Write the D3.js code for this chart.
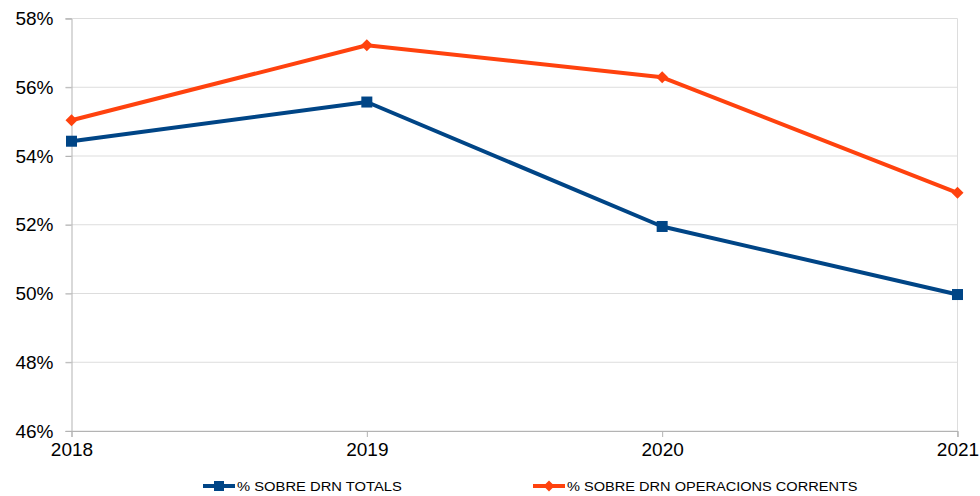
<!DOCTYPE html>
<html>
<head>
<meta charset="utf-8">
<script src="https://cdn.jsdelivr.net/npm/d3@7"></script>
<style>
  body { margin: 0; background: #fff; }
  svg { font-family: "Liberation Sans", Arial, sans-serif; }
</style>
</head>
<body>
<div id="chart"></div>
<script>
var years = ['2018', '2019', '2020', '2021'];
var drnTotals = [54.43, 55.57, 51.95, 49.97];
var drnCorrents = [55.04, 57.22, 56.29, 52.93];
var yTicks = [46, 48, 50, 52, 54, 56, 58];
var seriesNames = ['% SOBRE DRN TOTALS', '% SOBRE DRN OPERACIONS CORRENTS'];

var W = 980, H = 496;
var margin = {top: 18.5, right: 22.5, bottom: 65, left: 71.5};
var width = W - margin.left - margin.right,
    height = H - margin.top - margin.bottom;

var svg = d3.select('#chart').append('svg')
    .attr('width', W)
    .attr('height', H);
var g = svg.append('g')
    .attr('transform', 'translate(' + margin.left + ',' + margin.top + ')');

var x = d3.scalePoint().domain(years).range([0, width]);
var y = d3.scaleLinear().domain([46, 58]).range([height, 0]);

// gridlines
g.append('g')
    .selectAll('line')
    .data(yTicks)
    .enter().append('line')
    .attr('x1', -6).attr('x2', width)
    .attr('y1', function(d) { return y(d); })
    .attr('y2', function(d) { return y(d); })
    .attr('stroke', '#dddddd')
    .attr('stroke-width', 1);

g.append('line')
    .attr('x1', width).attr('x2', width)
    .attr('y1', 0).attr('y2', height + 6)
    .attr('stroke', '#dddddd');

// y axis
var yAxis = g.append('g')
    .call(d3.axisLeft(y).tickValues(yTicks).tickSize(6).tickPadding(12)
        .tickFormat(function(d) { return d + '%'; }));
yAxis.select('.domain').attr('stroke', '#b3b3b3');
yAxis.selectAll('.tick line').attr('stroke', '#b3b3b3');
yAxis.selectAll('text').attr('font-size', 19).attr('fill', '#000')
    .attr('font-family', '"Liberation Sans", Arial, sans-serif');

// x axis
var xAxis = g.append('g')
    .attr('transform', 'translate(0,' + height + ')')
    .call(d3.axisBottom(x).tickSize(6).tickPadding(6));
xAxis.select('.domain').attr('stroke', '#b3b3b3');
xAxis.selectAll('.tick line').attr('stroke', '#b3b3b3');
xAxis.selectAll('text').attr('font-size', 19).attr('fill', '#000')
    .attr('font-family', '"Liberation Sans", Arial, sans-serif');

var line = d3.line()
    .x(function(d, i) { return x(years[i]); })
    .y(function(d) { return y(d); });

var colors = ['#004586', '#ff420e'];
var data = [drnTotals, drnCorrents];

data.forEach(function(vals, k) {
    g.append('path')
        .datum(vals)
        .attr('fill', 'none')
        .attr('stroke', colors[k])
        .attr('stroke-width', 4)
        .attr('stroke-linejoin', 'round')
        .attr('d', line);
});

// markers
g.selectAll('.sq')
    .data(drnTotals)
    .enter().append('rect')
    .attr('x', function(d, i) { return x(years[i]) - 5.5; })
    .attr('y', function(d) { return y(d) - 5.5; })
    .attr('width', 11).attr('height', 11)
    .attr('fill', colors[0]);

g.selectAll('.dm')
    .data(drnCorrents)
    .enter().append('path')
    .attr('transform', function(d, i) { return 'translate(' + x(years[i]) + ',' + y(d) + ')'; })
    .attr('d', 'M0,-6L6,0L0,6L-6,0Z')
    .attr('fill', colors[1]);

// legend (text in the original is a bit stretched horizontally)
var legendX = [203, 533];
var legendLen = [165, 291];
var legendY = 486;
seriesNames.forEach(function(name, k) {
    var lg = svg.append('g').attr('transform', 'translate(' + legendX[k] + ',' + legendY + ')');
    lg.append('line')
        .attr('x1', 0).attr('x2', 32)
        .attr('y1', 0).attr('y2', 0)
        .attr('stroke', colors[k]).attr('stroke-width', 4);
    if (k === 0) {
        lg.append('rect').attr('x', 11).attr('y', -5).attr('width', 10).attr('height', 10).attr('fill', colors[k]);
    } else {
        lg.append('path').attr('d', 'M16,-5.5L21.5,0L16,5.5L10.5,0Z').attr('fill', colors[k]);
    }
    var t = lg.append('text')
        .attr('x', 0).attr('y', 0)
        .attr('dy', '0.35em')
        .attr('font-size', 13)
        .attr('fill', '#000')
        .text(name);
    var w = t.node().getComputedTextLength();
    t.attr('transform', 'translate(34,0) scale(' + (legendLen[k] / w) + ',1)');
});
</script>
</body>
</html>
